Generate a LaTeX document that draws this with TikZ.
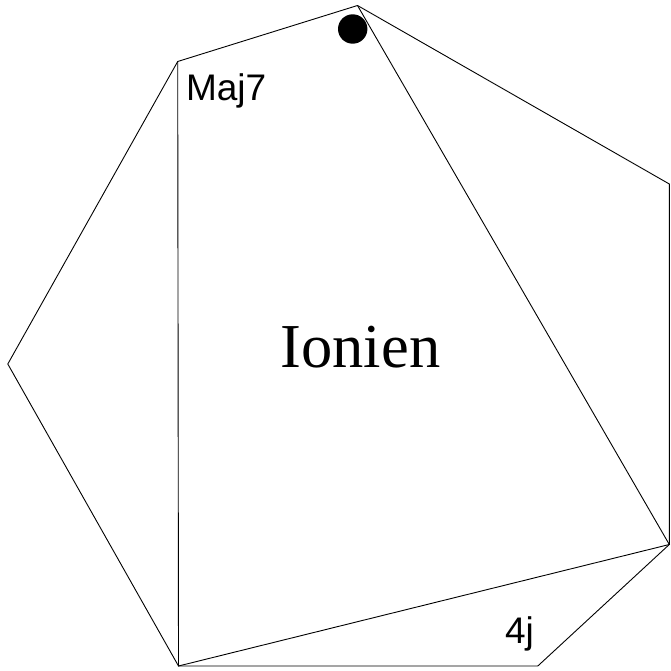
\documentclass[tikz,border=0pt]{standalone}
\usepackage{fontspec}
\setmainfont{Liberation Serif}
\newfontfamily\labelfont{Liberation Sans}
\begin{document}
\begin{tikzpicture}[x=1pt,y=-1pt,
  edge/.style={draw=black,line width=0.9pt,line join=miter},
  lbl/.style={inner sep=0pt,outer sep=0pt,font=\labelfont\fontsize{37}{40}\selectfont,anchor=base west},
  title/.style={inner sep=0pt,outer sep=0pt,font=\fontsize{62.5}{70}\selectfont,anchor=base}]
\useasboundingbox (0,0) rectangle (670,671);
\coordinate (T) at (357.5,5.5);
\coordinate (RT) at (669.3,184);
\coordinate (RB) at (669.3,544.5);
\coordinate (BR) at (537.8,666);
\coordinate (BL) at (178.5,666);
\coordinate (L) at (7.8,364);
\coordinate (TL) at (177.7,61.5);
\draw[edge] (T) -- (RT) -- (RB) -- (BR) -- (BL) -- (L) -- (TL) -- cycle;
\draw[edge] (TL) -- (BL) -- (RB) -- (T);
\fill[black] (352.7,29) circle (14.7);
\node[lbl] (maj) at (186,100.5) {Maj7};
\node[lbl] (quarte) at (505,643) {4j};
\node[title] (ionien) at (360.4,367) {Ionien};
\end{tikzpicture}
\end{document}
